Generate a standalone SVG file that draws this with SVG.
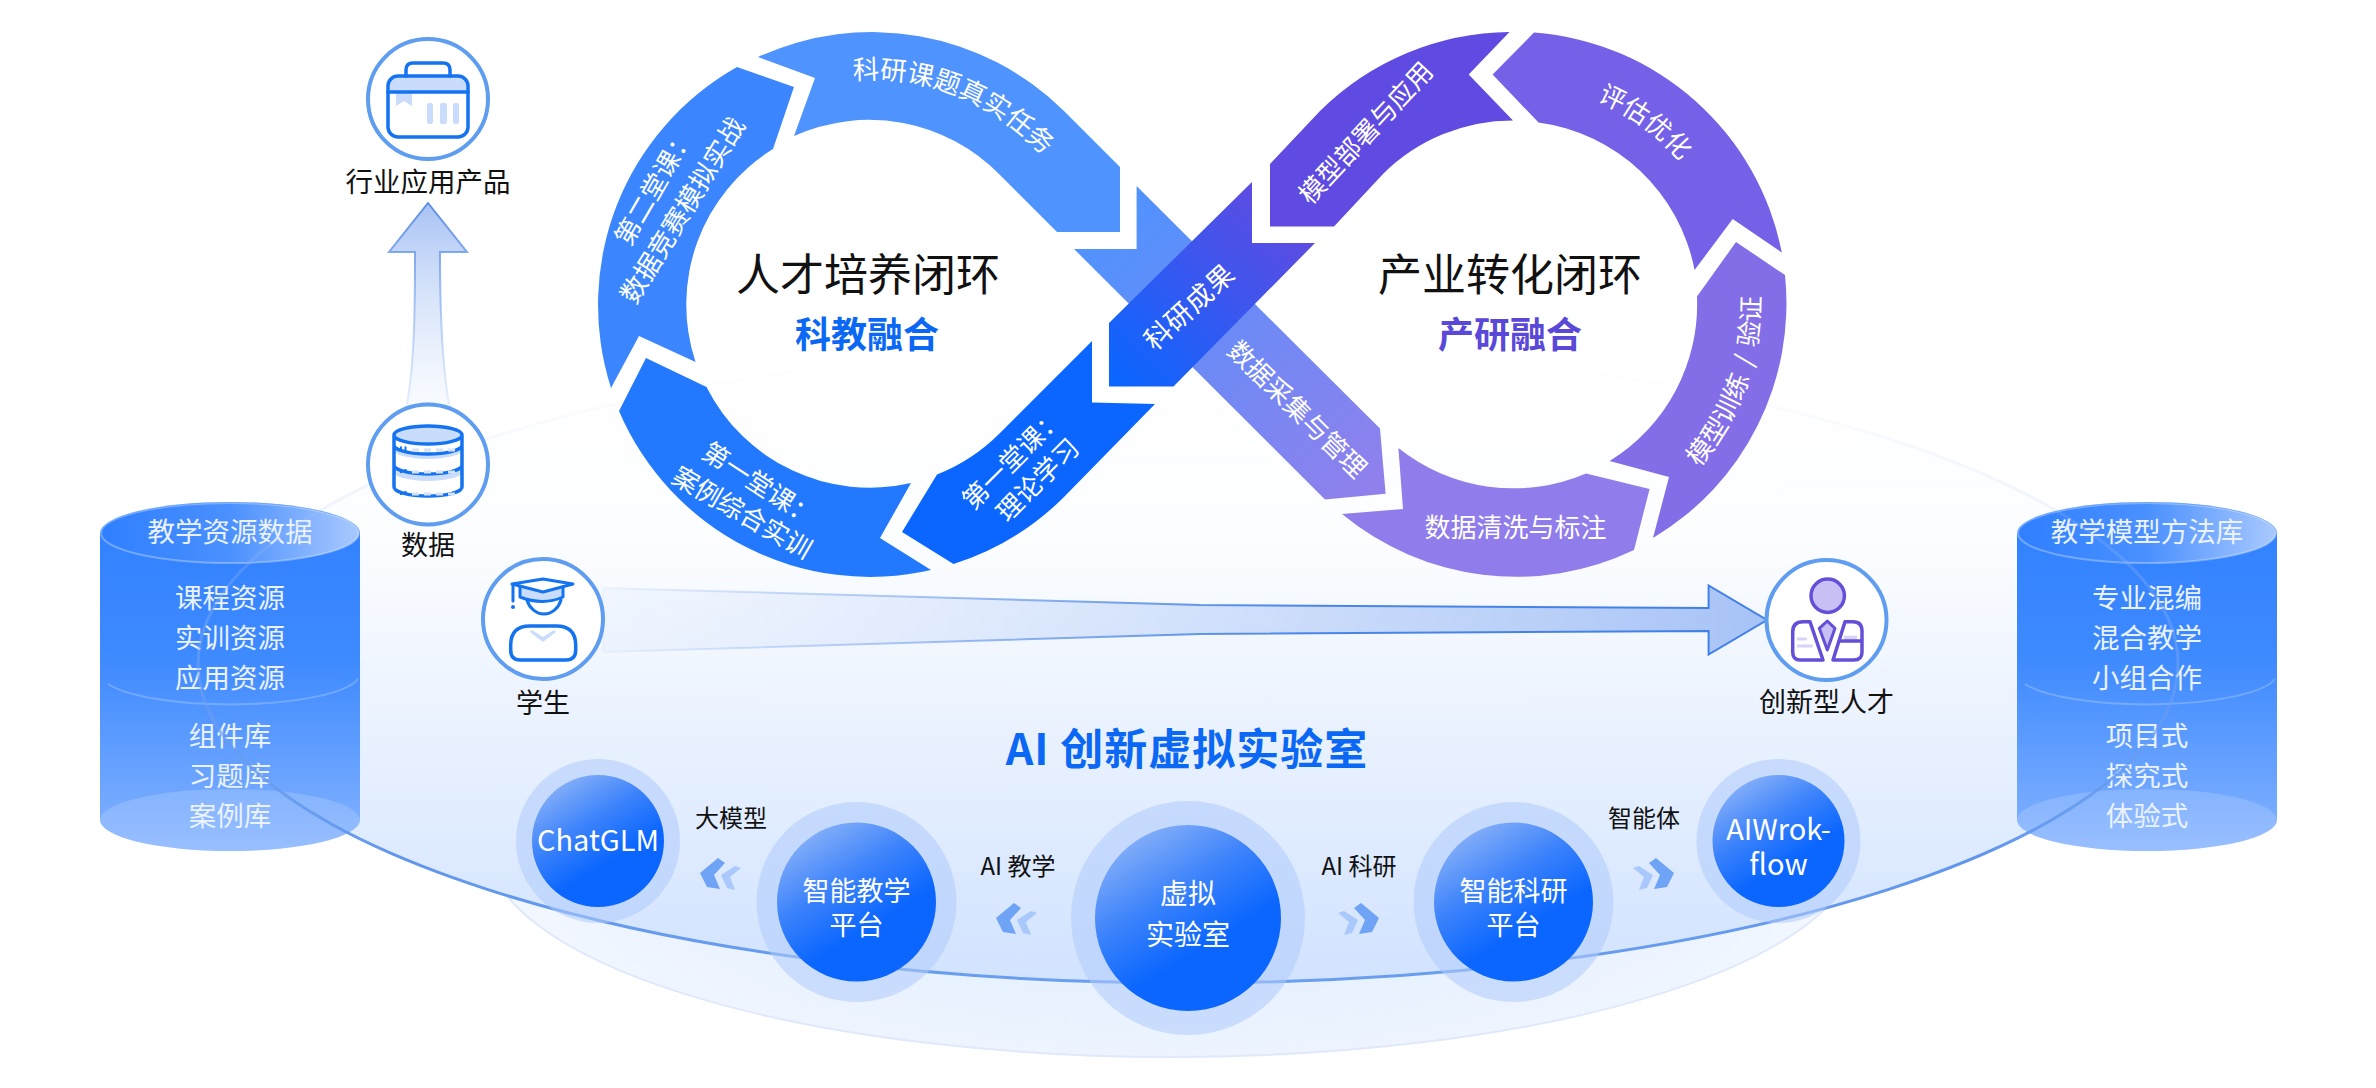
<svg xmlns="http://www.w3.org/2000/svg" width="2376" height="1088" viewBox="0 0 2376 1088">
<style>
text{font-family:"Noto Sans CJK SC","Noto Sans",sans-serif;}
.c{text-anchor:middle;}
.k{fill:#111;font-size:27px;text-anchor:middle;}
.l{fill:#111;font-size:24px;text-anchor:middle;}
.w{fill:#fff;font-size:26px;}
.wm{fill:#fff;font-size:26px;text-anchor:middle;}
.wc{fill:#fff;font-size:27px;text-anchor:middle;}
.cy{fill:#eaf2ff;font-size:27.5px;text-anchor:middle;}
.ring{fill:#fff;stroke:#5f9df0;stroke-width:4;}
.ic{fill:none;stroke:#1473f0;stroke-width:3.5;stroke-linejoin:round;stroke-linecap:round;}
.icf{fill:#c9dcfb;stroke:none;}
.ip{fill:none;stroke:#6450d8;stroke-width:3.5;stroke-linejoin:round;}
.halo{fill:#aecbfb;fill-opacity:.55;}
.ball{fill:url(#gBall);}
</style>
<defs>
<linearGradient id="gBg" x1="0" y1="0" x2="0" y2="1">
<stop offset="0" stop-color="#fff"/><stop offset=".3" stop-color="#fcfdff"/><stop offset=".55" stop-color="#edf4ff"/><stop offset=".85" stop-color="#dae8ff"/><stop offset="1" stop-color="#d2e3ff"/>
</linearGradient>
<radialGradient id="gBg2" cx=".5" cy=".6" r=".6">
<stop offset="0" stop-color="#e2edff"/><stop offset=".6" stop-color="#ebf3ff"/><stop offset=".85" stop-color="#f4f8ff"/><stop offset="1" stop-color="#fdfeff"/>
</radialGradient>
<linearGradient id="gEdge" x1="0" y1="0" x2="0" y2="1">
<stop offset="0" stop-color="#c5d8f8" stop-opacity="0"/><stop offset=".3" stop-color="#9fbff5" stop-opacity=".2"/><stop offset=".55" stop-color="#6d9fee" stop-opacity=".55"/><stop offset=".8" stop-color="#5f96ec"/><stop offset="1" stop-color="#6a9eee"/>
</linearGradient>
<linearGradient id="gMid" gradientUnits="userSpaceOnUse" x1="1120" y1="385" x2="1290" y2="215">
<stop offset="0" stop-color="#0a66ff"/><stop offset="1" stop-color="#5f4be2"/>
</linearGradient>
<linearGradient id="gArr" gradientUnits="userSpaceOnUse" x1="1100" y1="215" x2="1370" y2="490">
<stop offset="0" stop-color="#4f93fe"/><stop offset="1" stop-color="#8f80ec"/>
</linearGradient>
<linearGradient id="gBall" x1=".2" y1="0" x2=".6" y2=".65">
<stop offset="0" stop-color="#8fb5f8"/><stop offset=".55" stop-color="#3d83fb"/><stop offset="1" stop-color="#0a66ff"/>
</linearGradient>
<linearGradient id="gBody" x1="0" y1="0" x2="0" y2="1">
<stop offset="0" stop-color="#2f7fff"/><stop offset=".45" stop-color="#3e8aff"/><stop offset="1" stop-color="#85b3ff"/>
</linearGradient>
<linearGradient id="gTop" x1="0" y1="0" x2="1" y2="0">
<stop offset="0" stop-color="#2f7fff"/><stop offset=".5" stop-color="#4a90ff"/><stop offset="1" stop-color="#a9c9fe"/>
</linearGradient>
<linearGradient id="gUp" gradientUnits="userSpaceOnUse" x1="0" y1="205" x2="0" y2="410">
<stop offset="0" stop-color="#a9c3f4"/><stop offset="1" stop-color="#dfeafc" stop-opacity=".2"/>
</linearGradient>
<linearGradient id="gUpS" gradientUnits="userSpaceOnUse" x1="0" y1="205" x2="0" y2="410">
<stop offset="0" stop-color="#5b8fe8"/><stop offset="1" stop-color="#8fb4f2" stop-opacity=".15"/>
</linearGradient>
<linearGradient id="gRt" gradientUnits="userSpaceOnUse" x1="600" y1="0" x2="1770" y2="0">
<stop offset="0" stop-color="#cfdffb" stop-opacity=".15"/><stop offset="1" stop-color="#a6c2f6"/>
</linearGradient>
<linearGradient id="gRtS" gradientUnits="userSpaceOnUse" x1="600" y1="0" x2="1770" y2="0">
<stop offset="0" stop-color="#5b8fe8" stop-opacity=".05"/><stop offset=".6" stop-color="#4a86e8"/><stop offset="1" stop-color="#3f7fe8"/>
</linearGradient>
<g id="chev">
<path d="M700,873L718,858L725,863L714,875L720,889L707,887Z" fill="#6fa3f5"/>
<path d="M721,875L735,866L741,868L730,877L735,890L727,888Z" fill="#a9c8fb"/>
</g>
<path id="p1" d="M853,80A225,225 0 0 1 1022,136L1100,205"/>
<path id="p2" d="M1513,84A220,220 0 0 1 1722,236"/>
<path id="p3" d="M1600,536A248,248 0 0 0 1727,180"/>
</defs>

<g id="background">
<ellipse cx="1172" cy="845" rx="685" ry="212" fill="url(#gBg2)" stroke="#dfe9fb" stroke-width="2"/>
<ellipse cx="1188" cy="664" rx="990" ry="319" fill="url(#gBg)"/>
</g>

<g id="resource-library">
<path d="M100,533V820A130,31 0 0 0 360,820V533A130,31 0 0 0 100,533Z" fill="url(#gBody)"/>
<ellipse cx="230" cy="820" rx="130" ry="31" fill="#fff" fill-opacity=".16"/>
<path d="M108,684A130,31 0 0 0 358,679" fill="none" stroke="#fff" stroke-opacity=".22" stroke-width="2"/>
<ellipse cx="230" cy="533" rx="129" ry="30" fill="url(#gTop)" stroke="#fff" stroke-opacity=".3" stroke-width="2"/>
<text class="cy" x="230" y="542">教学资源数据</text>
<text class="cy" x="230" y="608">课程资源</text>
<text class="cy" x="230" y="648">实训资源</text>
<text class="cy" x="230" y="688">应用资源</text>
<text class="cy" x="230" y="746">组件库</text>
<text class="cy" x="230" y="786">习题库</text>
<text class="cy" x="230" y="826">案例库</text>
</g>

<g id="method-library">
<path d="M2017,533V820A130,31 0 0 0 2277,820V533A130,31 0 0 0 2017,533Z" fill="url(#gBody)"/>
<ellipse cx="2147" cy="820" rx="130" ry="31" fill="#fff" fill-opacity=".16"/>
<path d="M2025,684A130,31 0 0 0 2275,679" fill="none" stroke="#fff" stroke-opacity=".22" stroke-width="2"/>
<ellipse cx="2147" cy="533" rx="129" ry="30" fill="url(#gTop)" stroke="#fff" stroke-opacity=".3" stroke-width="2"/>
<text class="cy" x="2147" y="542">教学模型方法库</text>
<text class="cy" x="2147" y="608">专业混编</text>
<text class="cy" x="2147" y="648">混合教学</text>
<text class="cy" x="2147" y="688">小组合作</text>
<text class="cy" x="2147" y="746">项目式</text>
<text class="cy" x="2147" y="786">探究式</text>
<text class="cy" x="2147" y="826">体验式</text>
</g>

<ellipse id="lab-edge" cx="1188" cy="664" rx="990" ry="319" fill="none" stroke="url(#gEdge)" stroke-width="3"/>

<g id="connectors">
<path d="M428,203L467,252H440C440,300 441,365 450,408C435,402 421,402 406,408C415,365 415,300 415,252H389Z" fill="url(#gUp)" stroke="url(#gUpS)" stroke-width="2"/>
<path d="M603,588L1200,605L1708.6,608V585.4L1767,620L1708.6,654.6V631L1200,634L603,652Z" fill="url(#gRt)" stroke="url(#gRtS)" stroke-width="2"/>
<use href="#chev"/>
<use href="#chev" transform="translate(296,45)"/>
<use href="#chev" transform="matrix(-1 0 0 1 2079 45)"/>
<use href="#chev" transform="matrix(-1 0 0 1 2374 0)"/>
<text class="l" x="731" y="827">大模型</text>
<text class="l" x="1018" y="875">AI 教学</text>
<text class="l" x="1359" y="875">AI 科研</text>
<text class="l" x="1644" y="827">智能体</text>
</g>

<g id="loop-segments">
<path id="seg-task" d="M758,57A273,273 0 0 1 1064,111L1120,167V232H1057L1000,175A183,183 0 0 0 794,136L815,78Z" fill="#4f93fe"/>
<path id="seg-class2" d="M737,67L794,87L773,149A183,183 0 0 0 695.5,362L639,336L611,388A273,273 0 0 1 737,67Z" fill="#3b86ff"/>
<path id="seg-class3" d="M646,358L706.5,387A183,183 0 0 0 911,483L880,538L931,570A273,273 0 0 1 619,411Z" fill="#2279fe"/>
<path id="seg-class1" d="M937,474.5A183,183 0 0 0 1000,433L1092,341V402.6L1155,404L1064,497A273,273 0 0 1 953.5,564L902,532Z" fill="#0a66ff"/>
<path id="seg-collect" d="M1136.6,186L1380,428.6L1385.6,493.7L1325,499.4L1074,249H1136.6Z" fill="url(#gArr)"/>
<path id="seg-result" d="M1252,182V243H1315L1173.5,386.5H1109V323Z" fill="url(#gMid)"/>
<path id="seg-deploy" d="M1509.5,32L1468.7,74.6L1513,120.5A184,184 0 0 0 1383,174L1334,226.6H1270V164L1320,111A273,273 0 0 1 1509.5,32Z" fill="#604be2"/>
<path id="seg-eval" d="M1534,32.5L1492.6,74.6L1538.5,122.5A184,184 0 0 1 1694.6,270L1732.7,219L1781.8,252.6A273,273 0 0 0 1534,32.5Z" fill="#7461e8"/>
<path id="seg-train" d="M1736,242L1785,275A273,273 0 0 1 1653,538L1669,477L1609.6,461A184,184 0 0 0 1697,296.6Z" fill="#836ee8"/>
<path id="seg-clean" d="M1398.4,448A184,184 0 0 0 1586,473.4L1649.6,489L1634,550A273,273 0 0 1 1342,514L1403,509Z" fill="#917cec"/>
<text class="w" style="font-size:26.5px"><textPath href="#p1">科研课题真实任务</textPath></text>
<text class="w" transform="rotate(-60 622 243)" x="622" y="252">第二堂课：</text>
<text class="wm" transform="rotate(-58.5 683 210.5)" x="683" y="219.5" style="font-size:26.5px">数据竞赛模拟实战</text>
<text class="w" transform="rotate(33 705 449)" x="705" y="458">第一堂课：</text>
<text class="wm" transform="rotate(30 742 513)" x="742" y="522">案例综合实训</text>
<text class="w" transform="rotate(-45 967 505)" x="967" y="514">第一堂课：</text>
<text class="wm" transform="rotate(-45 1038 480)" x="1038" y="489">理论学习</text>
<text class="wm" transform="rotate(-42.5 1189.5 307)" x="1189.5" y="316.5" style="font-size:27px;letter-spacing:1px">科研成果</text>
<text class="wm" transform="rotate(44.5 1297 409.5)" x="1297" y="418.5">数据采集与管理</text>
<text class="wm" transform="rotate(-47 1366 133)" x="1366" y="142">模型部署与应用</text>
<text class="wm"><textPath href="#p2" startOffset="50%">评估优化</textPath></text>
<text class="wm" style="word-spacing:4px"><textPath href="#p3" startOffset="50%">模型训练 / 验证</textPath></text>
<text class="wm" x="1515.5" y="537">数据清洗与标注</text>
</g>

<g id="loop-talent">
<text class="c" x="868" y="291" fill="#111" font-size="44">人才培养闭环</text>
<text class="c" x="867" y="348" fill="#0b68f5" font-size="36" font-weight="700">科教融合</text>
</g>
<g id="loop-industry">
<text class="c" x="1510" y="291" fill="#111" font-size="44">产业转化闭环</text>
<text class="c" x="1510" y="348" fill="#5a48d8" font-size="36" font-weight="700">产研融合</text>
</g>

<g id="node-product">
<circle class="ring" cx="428" cy="99" r="60"/>
<path class="icf" d="M390,92V84Q390,76 398,76H458Q466,76 466,84V92Z"/>
<path class="icf" d="M396,92H412V106L404,101L396,106Z"/>
<rect class="icf" x="427" y="103" width="6" height="21" rx="2"/><rect class="icf" x="440" y="103" width="7" height="21" rx="2"/><rect class="icf" x="453" y="103" width="6" height="21" rx="2"/>
<rect class="ic" x="388" y="76" width="80" height="61" rx="10"/>
<path class="ic" d="M388,92H468M406,76V70Q406,63 413,63H443Q450,63 450,70V76"/>
<text class="k" x="428" y="192" style="font-size:27.5px">行业应用产品</text>
</g>

<g id="node-data">
<circle class="ring" cx="428" cy="464.5" r="60"/>
<ellipse class="icf" cx="428" cy="435" rx="33" ry="8"/>
<path d="M394,446A34,9 0 0 0 462,446V450A34,9 0 0 1 394,450ZM394,467A34,9 0 0 0 462,467V472A34,9 0 0 1 394,472Z" fill="#c9dcfb"/>
<path class="ic" d="M394,435A34,9 0 0 1 462,435V445A34,9 0 0 1 394,445ZM394,435A34,9 0 0 0 462,435M394,445V465A34,9 0 0 0 462,465V445M394,465V487A34,9 0 0 0 462,487V465"/>
<path d="M412,450H457M412,472H457M412,494H457" fill="none" stroke="#d5e2f8" stroke-width="3" stroke-dasharray="7 5"/>
<path d="M400,448.5h2M404.5,448.5h2M400,471h2M404.5,471h2M400,493h2M404.5,493h2" stroke="#1473f0" stroke-width="4" fill="none"/>
<text class="k" x="428" y="555">数据</text>
</g>

<g id="node-student">
<circle class="ring" cx="543" cy="619" r="60"/>
<path class="icf" d="M520,587V597Q543,606 563,597V587L543,592Z"/>
<path class="ic" style="stroke-width:3" d="M520,587V597Q543,606 563,597V587"/>
<path class="ic" style="stroke-width:3" d="M512,584L543,579L573,584L543,592Z"/>
<path class="ic" style="stroke-width:3" d="M527,600A18,21 0 0 0 561,600M513,585V601"/>
<circle cx="513" cy="607" r="2" fill="#1473f0"/>
<path class="icf" d="M531.7,630L543,637L554,630L556,632L543,642L530,632Z"/>
<path class="ic" d="M510.7,650V645Q510.7,626 530,626H556Q575.7,626 575.7,645V650Q575.7,660 566,660H520Q510.7,660 510.7,650Z"/>
<text class="k" x="543" y="713">学生</text>
</g>

<g id="node-talent">
<circle class="ring" cx="1826.5" cy="620" r="60"/>
<circle cx="1827.7" cy="595.7" r="16.7" fill="#c8c0f5" stroke="#6450d8" stroke-width="3.5"/>
<path d="M1827.3,621L1835,628.3L1827.3,650L1819.3,628.3Z" fill="#c8c0f5" stroke="#6450d8" stroke-width="3" stroke-linejoin="round"/>
<rect x="1844" y="635.7" width="13" height="5.3" fill="#d8d2f8"/>
<path d="M1797,639H1806.7M1797,646H1812.7" stroke="#d8d2f8" stroke-width="3" fill="none"/>
<path class="ip" d="M1803,621.7H1810L1823,660H1800Q1792.7,660 1792.7,652V632Q1792.7,621.7 1803,621.7ZM1845,621.7H1853Q1862,621.7 1862,631V652Q1862,660 1854,660H1833ZM1839,641H1862"/>
<text class="k" x="1826.5" y="712">创新型人才</text>
</g>

<text id="lab-title" class="c" x="1187" y="765" fill="#0b68f5" font-size="43" font-weight="700" letter-spacing="1">AI 创新虚拟实验室</text>

<g id="node-chatglm">
<circle class="halo" cx="598" cy="841" r="82"/><circle class="ball" cx="598" cy="841" r="66"/>
<text class="wc" x="598" y="851" style="font-size:29px">ChatGLM</text>
</g>
<g id="node-teach">
<circle class="halo" cx="856.5" cy="902" r="100"/><circle class="ball" cx="856.5" cy="902" r="79.5"/>
<text class="wc" x="856.5" y="901">智能教学</text><text class="wc" x="856.5" y="935">平台</text>
</g>
<g id="node-vlab">
<circle class="halo" cx="1188" cy="918" r="117"/><circle class="ball" cx="1188" cy="918" r="93"/>
<text class="wc" x="1188" y="904" style="font-size:28px">虚拟</text><text class="wc" x="1188" y="945" style="font-size:28px">实验室</text>
</g>
<g id="node-research">
<circle class="halo" cx="1513.5" cy="902" r="100"/><circle class="ball" cx="1513.5" cy="902" r="79.5"/>
<text class="wc" x="1513.5" y="901">智能科研</text><text class="wc" x="1513.5" y="935">平台</text>
</g>
<g id="node-aiworkflow">
<circle class="halo" cx="1778.5" cy="841" r="82"/><circle class="ball" cx="1778.5" cy="841" r="66"/>
<text class="wc" x="1778.5" y="840" style="font-size:29px">AIWrok-</text><text class="wc" x="1778.5" y="875" style="font-size:29px">flow</text>
</g>
</svg>
